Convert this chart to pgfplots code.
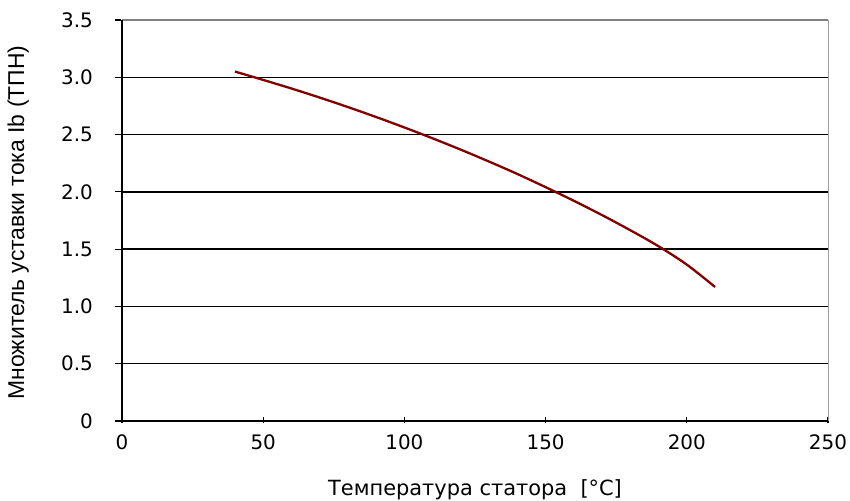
\documentclass[border=0pt]{standalone}
\usepackage{pgfplots}
\pgfplotsset{compat=1.18}
\usepackage{fontspec}
\setmainfont{DejaVu Sans}
\newfontfamily\lib{Liberation Sans}
\definecolor{curve}{RGB}{128,0,0}
\begin{document}
\begin{tikzpicture}
\begin{axis}[
  at={(0,0)}, anchor=south west,
  scale only axis, width=706bp, height=401bp,
  xmin=0, xmax=250, ymin=0, ymax=3.5,
  xtick={0,50,100,150,200,250},
  ytick={0,0.5,1,1.5,2,2.5,3,3.5},
  yticklabels={0,0.5,1.0,1.5,2.0,2.5,3.0,3.5},
  xtick pos=bottom, ytick pos=left,
  axis line style={draw=none},
  ymajorgrids, grid style={black, line width=1.5bp},
  tick align=inside, major tick length=6bp,
  tick style={black, line width=1.2bp},
  xtick style={yshift=-2bp},
  ytick style={xshift=-7bp},
  ticklabel style={font=\fontsize{20}{24}\selectfont, inner sep=0pt},
  yticklabel style={anchor=east, xshift=-29bp},
  xticklabel style={anchor=center, yshift=-21bp},
  /pgf/number format/assume math mode=true,
  xlabel={Температура статора\ \ [°C]},
  xlabel style={font=\fontsize{21}{24}\selectfont, at={(axis description cs:0.5,-0.172)}, anchor=center},
  ylabel={\lib Множитель уставки тока Ib (ТПН)},
  ylabel style={font=\fontsize{23}{26}\selectfont, at={(axis description cs:-0.147,0.495)}, anchor=center},
  clip=false,
]
\draw[gray!75, line width=1bp] (rel axis cs:1,0) -- (rel axis cs:1,1);
\draw[gray, line width=1.5bp] (rel axis cs:0,1) -- (rel axis cs:1,1);
\draw[black, line width=1.8bp] (rel axis cs:0,0) -- (rel axis cs:0,1);
\draw[black, line width=1.8bp] (rel axis cs:0,0) -- (rel axis cs:1,0);
\addplot[curve, line width=2.3bp, smooth] coordinates {
(40,3.05) (50,2.977) (60,2.902) (70,2.823) (80,2.740) (90,2.653) (100,2.562)
(110,2.467) (120,2.368) (130,2.264) (140,2.156) (150,2.041) (160,1.922)
(170,1.797) (180,1.665) (190,1.525) (200,1.365) (210,1.17)
};
\end{axis}
\pgfresetboundingbox
\path (-122bp,-80bp) rectangle (728bp,421bp);
\end{tikzpicture}
\end{document}
